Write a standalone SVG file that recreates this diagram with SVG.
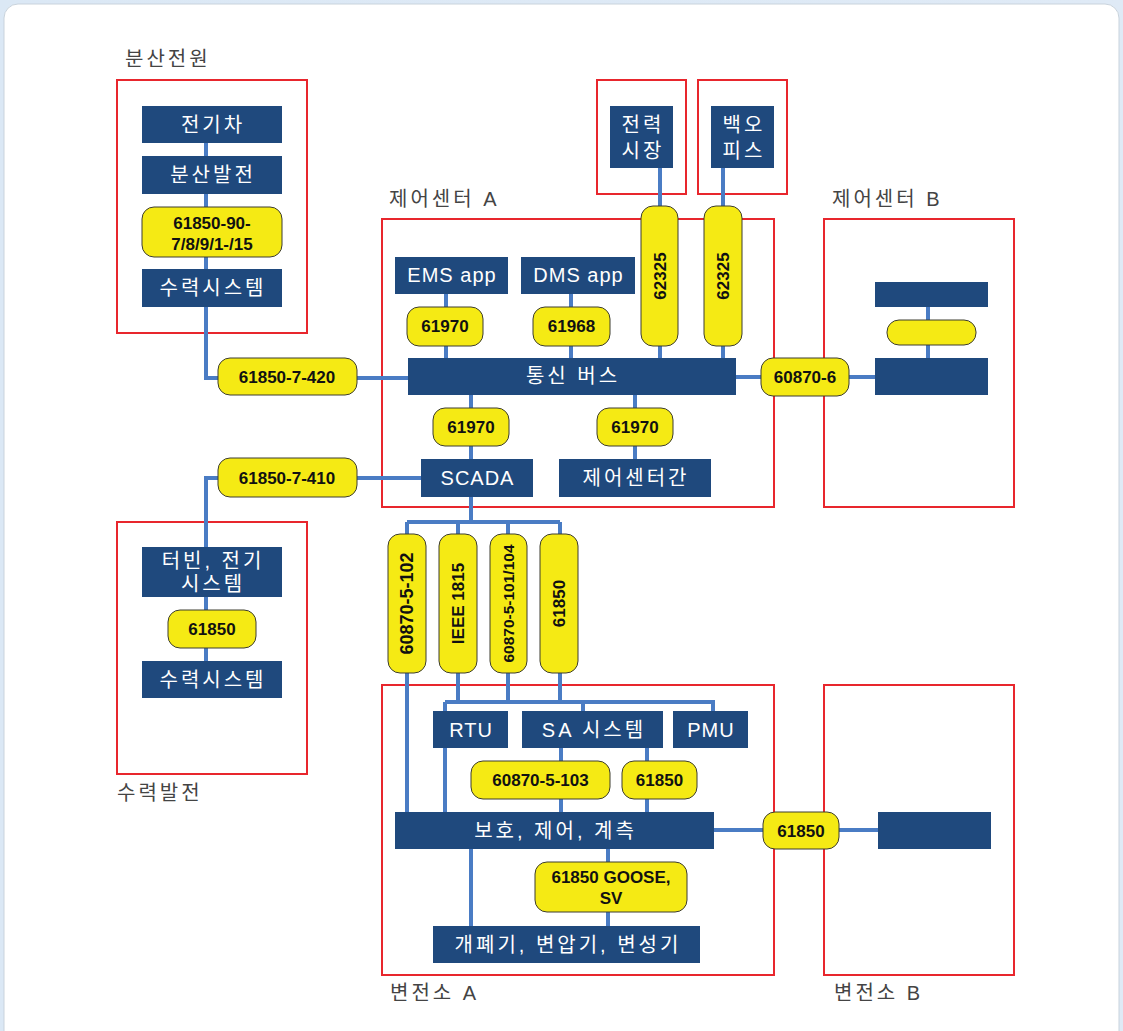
<svg xmlns="http://www.w3.org/2000/svg" width="1123" height="1031" viewBox="0 0 1123 1031">
<defs>
<linearGradient id="bg" x1="0" y1="0" x2="1" y2="0">
<stop offset="0" stop-color="#dbe8f5"/>
<stop offset="1" stop-color="#dfeaf6"/>
</linearGradient>
</defs>
<style>
.n{fill:#1f497d}
.y{fill:#f5ea14;stroke:#3c3c30;stroke-width:1}
.c{stroke:#4a7cc4;stroke-width:4;fill:none}
.r{fill:none;stroke:#e8262d;stroke-width:2}
.nt{font-family:"Liberation Sans","Noto Sans CJK KR",sans-serif;font-size:20px;fill:#ffffff;text-anchor:middle;letter-spacing:1px}
.k{letter-spacing:3px}
.yt{font-family:"Liberation Sans",sans-serif;font-weight:bold;font-size:17px;fill:#111111;text-anchor:middle}
.gt{font-family:"Liberation Sans","Noto Sans CJK KR",sans-serif;font-size:20px;fill:#444444;letter-spacing:3px}
</style>
<rect x="0" y="0" width="1123" height="1031" fill="url(#bg)"/>
<rect x="4" y="4" width="1115" height="1045" rx="14" fill="#ffffff" stroke="#c9d3dc" stroke-width="1"/>

<g id="containers">
<g id="box-dist"><rect class="r" x="117" y="80" width="190" height="253"/><text class="gt" x="125" y="66">분산전원</text></g>
<g id="box-market"><rect class="r" x="597" y="80" width="89" height="114"/></g>
<g id="box-backoffice"><rect class="r" x="698" y="80" width="89" height="114"/></g>
<g id="box-ccA"><rect class="r" x="382" y="219" width="392" height="288"/><text class="gt" x="389" y="206">제어센터 A</text></g>
<g id="box-ccB"><rect class="r" x="824" y="219" width="190" height="288"/><text class="gt" x="832" y="206">제어센터 B</text></g>
<g id="box-hydro"><rect class="r" x="117" y="522" width="190" height="252"/><text class="gt" x="117" y="800">수력발전</text></g>
<g id="box-subA"><rect class="r" x="382" y="685" width="392" height="290"/><text class="gt" x="390" y="1000">변전소 A</text></g>
<g id="box-subB"><rect class="r" x="824" y="685" width="190" height="290"/><text class="gt" x="834" y="1000">변전소 B</text></g>
</g>

<g id="connectors">
<path class="c" d="M206,125 V378 H410"/>
<path class="c" d="M736,377 H876"/>
<path class="c" d="M928,307 V358"/>
<path class="c" d="M446,294 V358"/>
<path class="c" d="M571,294 V358"/>
<path class="c" d="M660,168 V358"/>
<path class="c" d="M723,168 V358"/>
<path class="c" d="M471,395 V459"/>
<path class="c" d="M635,395 V459"/>
<path class="c" d="M421,478 H206 V547"/>
<path class="c" d="M206,597 V661"/>
<path class="c" d="M471,497 V522"/>
<path class="c" d="M407,522 H560"/>
<path class="c" d="M407,522 V812"/>
<path class="c" d="M458,522 V702"/>
<path class="c" d="M508,522 V702"/>
<path class="c" d="M560,522 V702"/>
<path class="c" d="M445,702 H713 V711"/>
<path class="c" d="M445,702 V812"/>
<path class="c" d="M583,702 V711"/>
<path class="c" d="M561,748 V812"/>
<path class="c" d="M647,748 V812"/>
<path class="c" d="M714,830 H878"/>
<path class="c" d="M471,849 V926"/>
<path class="c" d="M608,849 V926"/>
</g>

<g id="n-ev"><rect class="n" x="142" y="106" width="140" height="37"/><text class="nt k" x="213" y="132">전기차</text></g>
<g id="n-dg"><rect class="n" x="142" y="156" width="140" height="38"/><text class="nt k" x="213" y="182">분산발전</text></g>
<g id="p-61850-90"><rect class="y" x="142" y="207" width="140" height="50" rx="12"/><text class="yt" x="212" y="229">61850-90-</text><text class="yt" x="212" y="250">7/8/9/1-/15</text></g>
<g id="n-hydro1"><rect class="n" x="142" y="269" width="140" height="38"/><text class="nt k" x="213" y="295">수력시스템</text></g>
<g id="p-61850-7-420"><rect class="y" x="218" y="358" width="139" height="37" rx="12"/><text class="yt" x="287" y="383">61850-7-420</text></g>

<g id="n-market"><rect class="n" x="610" y="106" width="63" height="62"/><text class="nt k" x="643" y="132">전력</text><text class="nt k" x="643" y="158">시장</text></g>
<g id="n-backoffice"><rect class="n" x="711" y="106" width="63" height="62"/><text class="nt k" x="744" y="132">백오</text><text class="nt k" x="744" y="158">피스</text></g>

<g id="n-ems"><rect class="n" x="395" y="257" width="113" height="37"/><text class="nt" x="452" y="282">EMS app</text></g>
<g id="n-dms"><rect class="n" x="521" y="257" width="114" height="37"/><text class="nt" x="578.5" y="282">DMS app</text></g>
<g id="p-61970a"><rect class="y" x="407" y="307" width="76" height="39" rx="12"/><text class="yt" x="445" y="332">61970</text></g>
<g id="p-61968"><rect class="y" x="533" y="307" width="77" height="39" rx="12"/><text class="yt" x="571.5" y="332">61968</text></g>
<g id="p-62325a"><rect class="y" x="641" y="206" width="37" height="140" rx="12"/><text class="yt" transform="rotate(-90 659.5 276)" x="659.5" y="282">62325</text></g>
<g id="p-62325b"><rect class="y" x="704" y="206" width="38" height="140" rx="12"/><text class="yt" transform="rotate(-90 723 276)" x="723" y="282">62325</text></g>
<g id="n-bus"><rect class="n" x="408" y="358" width="328" height="37"/><text class="nt k" x="573" y="383">통신 버스</text></g>
<g id="p-60870-6"><rect class="y" x="761" y="358" width="88" height="38" rx="12"/><text class="yt" x="805" y="383">60870-6</text></g>

<g id="n-ccB-top"><rect class="n" x="875" y="282" width="113" height="25"/></g>
<g id="p-ccB"><rect class="y" x="887" y="320" width="89" height="25" rx="12"/></g>
<g id="n-ccB-bottom"><rect class="n" x="875" y="358" width="113" height="37"/></g>

<g id="p-61970b"><rect class="y" x="433" y="408" width="76" height="38" rx="12"/><text class="yt" x="471" y="433">61970</text></g>
<g id="p-61970c"><rect class="y" x="597" y="408" width="76" height="38" rx="12"/><text class="yt" x="635" y="433">61970</text></g>
<g id="n-scada"><rect class="n" x="421" y="459" width="112" height="38"/><text class="nt" x="477.5" y="485">SCADA</text></g>
<g id="n-intercc"><rect class="n" x="559" y="459" width="152" height="38"/><text class="nt k" x="636" y="485">제어센터간</text></g>
<g id="p-61850-7-410"><rect class="y" x="218" y="458" width="139" height="39" rx="12"/><text class="yt" x="287" y="484">61850-7-410</text></g>

<g id="n-turbine"><rect class="n" x="142" y="547" width="140" height="50"/><text class="nt k" x="213" y="568">터빈, 전기</text><text class="nt k" x="213" y="591">시스템</text></g>
<g id="p-61850-h"><rect class="y" x="168" y="610" width="88" height="38" rx="12"/><text class="yt" x="212" y="635">61850</text></g>
<g id="n-hydro2"><rect class="n" x="142" y="661" width="140" height="37"/><text class="nt k" x="213" y="687">수력시스템</text></g>

<g id="p-60870-5-102"><rect class="y" x="388" y="534" width="38" height="139" rx="12"/><text class="yt" transform="rotate(-90 407 603.5)" x="407" y="609.5" style="font-size:18px">60870-5-102</text></g>
<g id="p-ieee1815"><rect class="y" x="439" y="534" width="38" height="139" rx="12"/><text class="yt" transform="rotate(-90 458 603.5)" x="458" y="609.5">IEEE 1815</text></g>
<g id="p-60870-5-101"><rect class="y" x="490" y="534" width="37" height="139" rx="12"/><text class="yt" transform="rotate(-90 508.5 603.5)" x="508.5" y="609" style="font-size:15.5px">60870-5-101/104</text></g>
<g id="p-61850-v"><rect class="y" x="540" y="534" width="38" height="139" rx="12"/><text class="yt" transform="rotate(-90 559 603.5)" x="559" y="609.5">61850</text></g>

<g id="n-rtu"><rect class="n" x="433" y="711" width="75" height="37"/><text class="nt" x="471" y="737">RTU</text></g>
<g id="n-sa"><rect class="n" x="522" y="711" width="141" height="37"/><text class="nt k" x="594" y="737">SA 시스템</text></g>
<g id="n-pmu"><rect class="n" x="673" y="711" width="75" height="37"/><text class="nt" x="711" y="737">PMU</text></g>
<g id="p-60870-5-103"><rect class="y" x="471" y="761" width="139" height="38" rx="12"/><text class="yt" x="540.5" y="786">60870-5-103</text></g>
<g id="p-61850-sa"><rect class="y" x="622" y="761" width="75" height="38" rx="12"/><text class="yt" x="659.5" y="786">61850</text></g>
<g id="n-pcm"><rect class="n" x="395" y="812" width="319" height="37"/><text class="nt k" x="555.5" y="838">보호, 제어, 계측</text></g>
<g id="p-61850-sub"><rect class="y" x="763" y="812" width="76" height="37" rx="12"/><text class="yt" x="801" y="837">61850</text></g>
<g id="n-subB"><rect class="n" x="878" y="812" width="113" height="37"/></g>
<g id="p-goose"><rect class="y" x="535" y="862" width="152" height="50" rx="12"/><text class="yt" x="611" y="883">61850 GOOSE,</text><text class="yt" x="611" y="904">SV</text></g>
<g id="n-switchgear"><rect class="n" x="433" y="926" width="267" height="37"/><text class="nt k" x="568" y="952">개폐기, 변압기, 변성기</text></g>
</svg>
